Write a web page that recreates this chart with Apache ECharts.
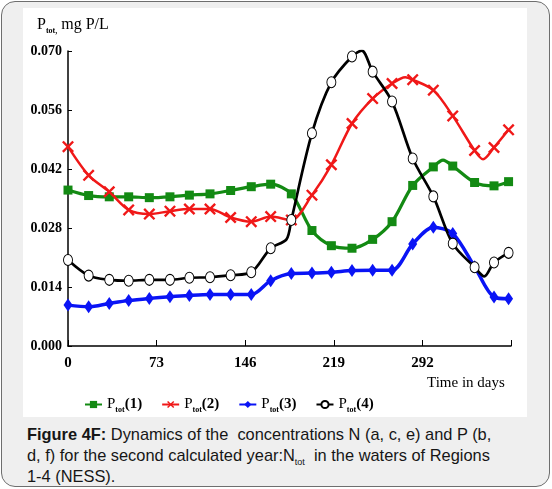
<!DOCTYPE html>
<html>
<head>
<meta charset="utf-8">
<script src="https://cdn.jsdelivr.net/npm/echarts@6/dist/echarts.min.js"></script>
<style>
  body { margin: 0; background: #ffffff; }
  .frame {
    position: absolute; left: 1px; top: 1px; width: 547px; height: 484px;
    border: 1.5px solid #6e6e6e; border-radius: 14px; background: #efefef;
  }
  #chart {
    position: absolute; left: 23px; top: 8px; width: 504px; height: 409px;
    background: #ffffff;
  }
  .caption {
    position: absolute; left: 27px; top: 424px; width: 510px;
    font-family: "Liberation Sans", Arial, sans-serif; font-size: 16.4px;
    line-height: 21px; color: #161616;
  }
  .caption sub { font-size: 9px; line-height: 0; vertical-align: -4px; }
</style>
</head>
<body>
<div class="frame"></div>
<div id="chart"></div>
<div class="caption"><b>Figure 4F:</b> Dynamics of the&nbsp; concentrations N (a, c, e) and P (b,<br>d, f) for the second calculated year:N<sub>tot</sub>&nbsp; in the waters of Regions<br>1-4 (NESS).</div>
<script>
// days where the markers sit
var days = [0, 17, 34, 50, 67, 84, 100, 117, 134, 151, 167, 184, 201, 217, 234, 251, 267, 284, 301, 317, 335, 351, 363];

var ptot1 = [0.0370, 0.0357, 0.0354, 0.0354, 0.0352, 0.0354, 0.0358, 0.0361, 0.0369, 0.0378, 0.0384, 0.0361, 0.0274, 0.0238, 0.0232, 0.0253, 0.0295, 0.0381, 0.0425, 0.0427, 0.0388, 0.0380, 0.0390];
var ptot2 = [0.0473, 0.0405, 0.0366, 0.0323, 0.0313, 0.0320, 0.0325, 0.0325, 0.0305, 0.0295, 0.0307, 0.0299, 0.0358, 0.0430, 0.0528, 0.0587, 0.0623, 0.0632, 0.0607, 0.0546, 0.0464, 0.0471, 0.0513];
var ptot3 = [0.0097, 0.0093, 0.0101, 0.0108, 0.0113, 0.0117, 0.0120, 0.0122, 0.0122, 0.0122, 0.0155, 0.0172, 0.0173, 0.0175, 0.0179, 0.0180, 0.0180, 0.0242, 0.0282, 0.0267, 0.0188, 0.0116, 0.0112];
var ptot4 = [0.0204, 0.0167, 0.0157, 0.0155, 0.0157, 0.0157, 0.0162, 0.0163, 0.0168, 0.0175, 0.0232, 0.0299, 0.0505, 0.0626, 0.0687, 0.0651, 0.0580, 0.0445, 0.0355, 0.0243, 0.0187, 0.0198, 0.0221];

// points on the curves without a marker (peaks, dips, kinks)
var bends1 = [[309, 0.0441]];
var bends2 = [[278, 0.0638], [342, 0.0443]];
var bends3 = [];
var bends4 = [[180, 0.0253], [242, 0.0701], [343, 0.0165]];

function build(values, bends) {
  var pts = days.map(function (d, i) { return { value: [d, values[i]] }; });
  bends.forEach(function (b) { pts.push({ value: b, symbol: "none" }); });
  pts.sort(function (a, b) { return a.value[0] - b.value[0]; });
  return pts;
}

var crossPath = "path://M0,1.4L1.4,0L5,3.6L8.6,0L10,1.4L6.4,5L10,8.6L8.6,10L5,6.4L1.4,10L0,8.6L3.6,5Z";
var serif = "'Liberation Serif', 'Times New Roman', serif";

var legendRich = {
  p: { fontFamily: serif, fontSize: 15, lineHeight: 18, color: "#000" },
  s: { fontFamily: serif, fontSize: 8, fontWeight: "bold", lineHeight: 10, verticalAlign: "bottom", color: "#000" },
  n: { fontFamily: serif, fontSize: 15, fontWeight: "bold", lineHeight: 18, color: "#000" },
};

var myChart = echarts.init(document.getElementById("chart"));
var option = {
  animation: false,
  grid: { left: 45, top: 43, right: 16, bottom: 71 },
  legend: {
    left: 56,
    top: 384,
    itemWidth: 17,
    itemHeight: 9,
    itemGap: 19,
    textStyle: { rich: legendRich },
    formatter: function (name) {
      return "{p|P}{s|tot}{n|" + name.slice(4) + "}";
    },
  },
  xAxis: {
    type: "value",
    min: 0,
    max: 365,
    interval: 73,
    axisLine: { onZero: false, lineStyle: { color: "#000", width: 1.5 } },
    axisTick: { inside: true, length: 6, lineStyle: { color: "#000", width: 1 } },
    axisLabel: {
      margin: 10,
      fontFamily: serif,
      fontSize: 15,
      fontWeight: "bold",
      color: "#000",
      formatter: function (v) { return v === 365 ? "" : String(v); },
    },
    splitLine: { show: false },
  },
  yAxis: {
    type: "value",
    min: 0,
    max: 0.07,
    interval: 0.014,
    axisLine: { show: true, lineStyle: { color: "#000", width: 1.5 } },
    axisTick: { show: true, inside: true, length: 4, lineStyle: { color: "#000" } },
    axisLabel: {
      margin: 6,
      fontFamily: serif,
      fontSize: 14,
      fontWeight: "bold",
      color: "#000",
      formatter: function (v) { return v.toFixed(3); },
    },
    splitLine: { show: false },
  },
  graphic: [
    {
      type: "text",
      left: 14,
      top: 9,
      style: {
        text: "{p|P}{s|tot,}{m| mg P/L}",
        rich: {
          p: { fontFamily: serif, fontSize: 16, lineHeight: 20, color: "#000" },
          s: { fontFamily: serif, fontSize: 8, fontWeight: "bold", lineHeight: 10, verticalAlign: "bottom", color: "#000" },
          m: { fontFamily: serif, fontSize: 16, lineHeight: 20, color: "#000" },
        },
      },
    },
    {
      type: "text",
      left: 404,
      top: 368,
      style: { text: "Time in days", fontFamily: serif, fontSize: 15, fill: "#000" },
    },
  ],
  series: [
    {
      name: "Ptot(1)",
      type: "line",
      smooth: 0.3,
      data: build(ptot1, bends1),
      symbol: "rect",
      symbolSize: 9,
      color: "#138a13",
      lineStyle: { width: 3.2, color: "#138a13" },
      itemStyle: { color: "#138a13" },
    },
    {
      name: "Ptot(2)",
      type: "line",
      smooth: 0.3,
      data: build(ptot2, bends2),
      symbol: crossPath,
      symbolSize: 12,
      color: "#f01818",
      lineStyle: { width: 2.5, color: "#f01818" },
      itemStyle: { color: "#f01818" },
    },
    {
      name: "Ptot(3)",
      type: "line",
      smooth: 0.3,
      data: build(ptot3, bends3),
      symbol: "diamond",
      symbolSize: [9, 13],
      color: "#0a14f5",
      lineStyle: { width: 3.5, color: "#0a14f5" },
      itemStyle: { color: "#0a14f5" },
    },
    {
      name: "Ptot(4)",
      type: "line",
      smooth: 0.3,
      data: build(ptot4, bends4),
      symbol: "circle",
      symbolSize: [9, 11],
      color: "#000",
      lineStyle: { width: 2.7, color: "#000" },
      itemStyle: { color: "#fff", borderColor: "#000", borderWidth: 1 },
    },
  ],
};
myChart.setOption(option);
</script>
</body>
</html>
